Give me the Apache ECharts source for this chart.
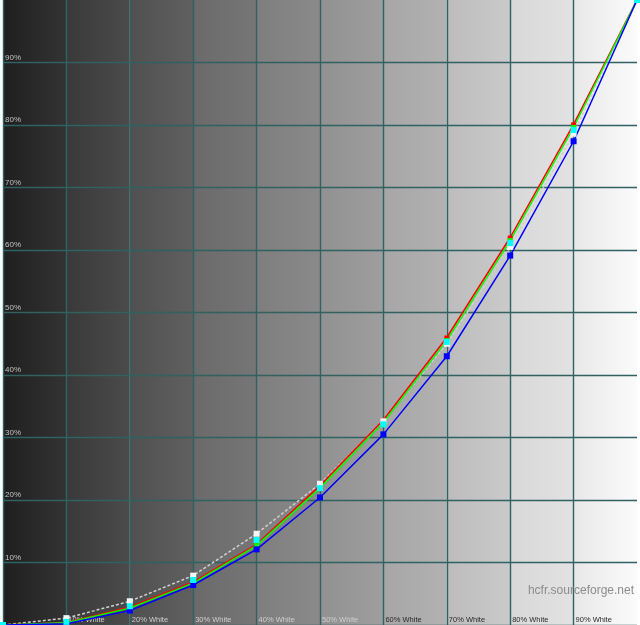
<!DOCTYPE html>
<html>
<head>
<meta charset="utf-8">
<script src="https://cdn.jsdelivr.net/npm/echarts@6/dist/echarts.min.js"></script>
<style>
  html, body { margin: 0; padding: 0; background: #fff; }
  #chart { width: 640px; height: 625px; }
</style>
</head>
<body>
<div id="chart"></div>
<script>
'use strict';

// stimulus levels (% white) and measured luminance (%)
var levels = [0, 10, 20, 30, 40, 50, 60, 70, 80, 90, 100];
var redVals = [0, 0.4, 2.9, 6.9, 12.9, 22.3, 32.8, 46.0, 62.0, 80.1, 100];
var greenVals = [0, 0.35, 2.7, 6.7, 12.7, 21.9, 32.4, 45.5, 61.5, 79.6, 100];
var blueVals = [0, 0.2, 2.3, 6.4, 12.1, 20.4, 30.5, 43.0, 59.1, 77.4, 100];
var lumaVals = [0, 0.5, 3.0, 7.2, 13.6, 21.9, 32.1, 45.3, 61.1, 79.2, 100];
var refVals = [0, 1.1, 3.8, 7.9, 14.6, 22.6, 32.6, 45.0, 60.5, 78.6, 100];

// grey ramp of the background bands
var bandStart = ['#1f1f1f', '#393939', '#505050', '#6a6a6a', '#7e7e7e', '#919191', '#a6a6a6', '#bcbcbc', '#d8d8d8', '#e8e8e8'];
var bandEnd = ['#333333', '#4b4b4b', '#606060', '#767676', '#8a8a8a', '#9e9e9e', '#b2b2b2', '#cacaca', '#e2e2e2', '#fbfbfb'];

var gridColor = '#306262';
// one colour per tick, the last one (100%) left out like the original
var gridColors = levels.map(function(v) {
    return v === 100 ? 'rgba(0,0,0,0)' : gridColor;
});

var pairs = function(vals) {
    return levels.map(function(x, i) {
        return [x, vals[i]];
    });
};

var bands = bandStart.map(function(c, i) {
    return [{
        xAxis: levels[i],
        itemStyle: {
            color: {
                type: 'linear', x: 0, y: 0, x2: 1, y2: 0,
                colorStops: [{ offset: 0, color: c }, { offset: 1, color: bandEnd[i] }]
            }
        }
    }, {
        xAxis: levels[i + 1]
    }];
});

var myChart = echarts.init(document.getElementById('chart'));
var option = {
    animation: false,
    backgroundColor: '#ffffff',
    grid: { left: 0, right: 0, top: 0, bottom: 0 },
    xAxis: {
        type: 'value',
        min: 0,
        max: 100,
        interval: 10,
        z: 3,
        axisLine: { show: false },
        axisTick: { show: false },
        splitLine: { lineStyle: { color: gridColors, width: 1.4 } },
        axisLabel: {
            inside: true,
            margin: 1,
            align: 'left',
            verticalAlign: 'bottom',
            padding: [0, 0, 0, 2],
            fontFamily: 'Liberation Sans',
            fontSize: 7.5,
            color: function(v) {
                return v >= 55 ? '#2a2a2a' : '#cfcfcf';
            },
            formatter: function(v) {
                return (v === 0 || v === 100) ? '' : v + '% White';
            }
        }
    },
    yAxis: {
        type: 'value',
        min: 0,
        max: 100,
        interval: 10,
        z: 3,
        axisLine: { show: false },
        axisTick: { show: false },
        splitLine: { lineStyle: { color: gridColors, width: 1.4 } },
        axisLabel: {
            inside: true,
            margin: 2,
            align: 'left',
            verticalAlign: 'bottom',
            padding: [0, 0, 1, 0],
            fontFamily: 'Liberation Sans',
            fontSize: 8,
            color: '#c4c4c4',
            formatter: function(v) {
                return (v === 0 || v === 100) ? '' : v + '%';
            }
        }
    },
    graphic: [{
        type: 'text',
        right: 6,
        top: 585,
        z: 10,
        style: {
            text: 'hcfr.sourceforge.net',
            fill: '#8c8c8c',
            font: '12px "Liberation Sans"'
        }
    }],
    series: [{
        type: 'line',
        z: 0,
        silent: true,
        data: [],
        markArea: { silent: true, z: 0, data: bands }
    }, {
        name: 'Reference',
        type: 'line',
        z: 5,
        data: pairs(refVals),
        showSymbol: false,
        symbol: 'none',
        lineStyle: { color: '#d0d0d0', width: 1.5, type: [3, 2] }
    }, {
        name: 'Red',
        type: 'line',
        z: 6,
        data: pairs(redVals),
        symbol: 'rect',
        symbolSize: [5, 4],
        itemStyle: { color: '#ff0000' },
        lineStyle: { color: '#ff0000', width: 1.5 }
    }, {
        name: 'Green',
        type: 'line',
        z: 6,
        data: pairs(greenVals),
        symbol: 'rect',
        symbolSize: [5, 5],
        itemStyle: { color: '#00ff00' },
        lineStyle: { color: '#00ff00', width: 1.5 }
    }, {
        name: 'Blue',
        type: 'line',
        z: 6,
        data: pairs(blueVals),
        symbol: 'rect',
        symbolSize: 6,
        itemStyle: { color: '#0000ff' },
        lineStyle: { color: '#0000ff', width: 1.5 }
    }, {
        name: 'Reference points',
        type: 'line',
        z: 7,
        data: pairs(refVals),
        symbol: 'rect',
        symbolSize: 6,
        itemStyle: { color: '#f4f4f4' },
        lineStyle: { width: 0 }
    }, {
        name: 'Y',
        type: 'line',
        z: 8,
        data: pairs(lumaVals),
        symbol: 'rect',
        symbolSize: 6,
        itemStyle: { color: '#00ffff' },
        lineStyle: { width: 0 }
    }]
};
myChart.setOption(option);
</script>
</body>
</html>
